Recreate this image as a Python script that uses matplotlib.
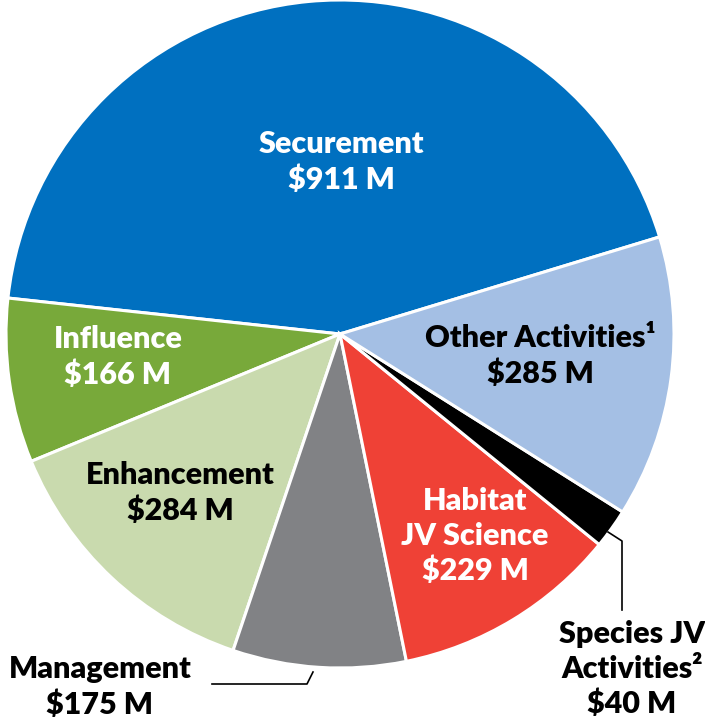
import matplotlib
matplotlib.use("Agg")
import matplotlib.pyplot as plt

categories = ["Securement", "Influence", "Enhancement", "Management",
              "Habitat\nJV Science", "Species JV\nActivities\u00b2", "Other Activities\u00b9"]
values = [911, 166, 284, 175, 229, 40, 285]
value_labels = ["$911 M", "$166 M", "$284 M", "$175 M", "$229 M", "$40 M", "$285 M"]
colors = ["#0070C0", "#78A93A", "#C9DAAE", "#818285", "#EF4136", "#000000", "#A4BFE4"]
text_colors = ["white", "white", "black", "black", "white", "black", "black"]

plt.rcParams['font.family'] = ['Lato', 'DejaVu Sans']

W, H = 705, 727
fig = plt.figure(figsize=(W / 100, H / 100), dpi=100)
cx, cy, r = 340, 334, 334
ax = fig.add_axes([(cx - r) / W, (H - cy - r) / H, 2 * r / W, 2 * r / H])

ax.pie(values, colors=colors, startangle=16.9, counterclock=True,
       wedgeprops=dict(edgecolor="white", linewidth=2.2), radius=1.0)
ax.set_xlim(-1, 1)
ax.set_ylim(-1, 1)
ax.set_aspect('auto')
ax.axis('off')


def px(x, y):
    return ((x - cx) / r, (cy - y) / r)


label_pos = [px(341, 162), px(118, 357), px(180, 493), px(100, 687),
             px(475, 536), px(632, 669), px(540, 356)]

for cat, val, col, pos in zip(categories, value_labels, text_colors, label_pos):
    ax.text(pos[0], pos[1], f"{cat}\n{val}", ha="center", va="center",
            color=col, fontsize=22, fontweight="heavy", linespacing=1.28,
            clip_on=False)

# leader lines
sx, sy = zip(*[px(608, 532), px(622, 541), px(622, 610)])
ax.plot(sx, sy, color="black", lw=1.2, clip_on=False)
mx, my = zip(*[px(313, 672), px(307, 684), px(212, 684)])
ax.plot(mx, my, color="black", lw=1.2, clip_on=False)

fig.savefig("out.png", dpi=100, facecolor="white")
